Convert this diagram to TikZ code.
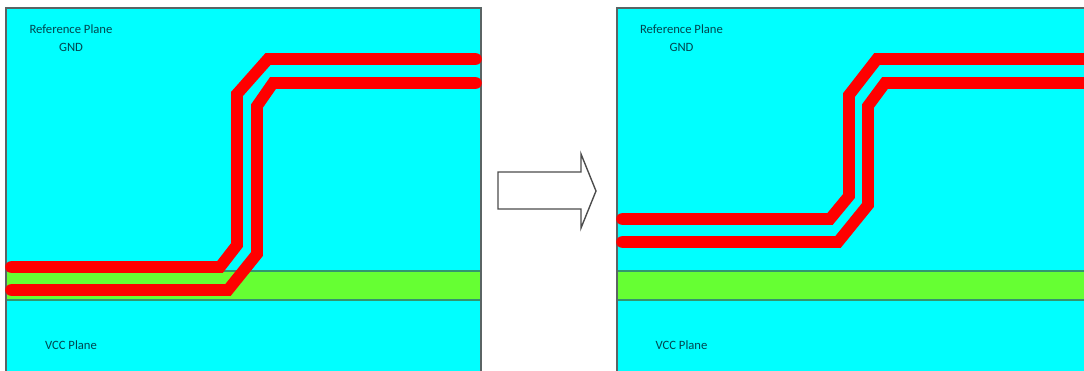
\documentclass[tikz,border=0pt]{standalone}
\usepackage{fontspec}
\setmainfont{Carlito}
\usepackage{xcolor}
\definecolor{planecyan}{RGB}{0,255,255}
\definecolor{corelime}{RGB}{102,255,51}
\definecolor{bandedge}{RGB}{50,150,110}
\definecolor{edgegray}{RGB}{90,100,100}
\definecolor{labeldark}{RGB}{0,70,80}
\tikzset{
  planeedge/.style={draw=edgegray, line width=1pt},
  bandline/.style={draw=bandedge, line width=1pt},
  trace/.style={draw=red, line width=8.4pt, line cap=round, line join=miter},
  planelabel/.style={text=labeldark, align=center, inner sep=0pt, font={\fontsize{9.15}{13}\selectfont}}
}
\begin{document}
\begin{tikzpicture}[scale=2.54]
  \useasboundingbox (0, 0) rectangle (10.84, 3.71);

  % Before: left plane
  \fill[planecyan] (0.06, 0) rectangle (4.81, 3.63);
  \fill[corelime] (0.06, 0.71) rectangle (4.81, 1.00);
  \draw[bandline] (0.06, 1.00) -- (4.81, 1.00);
  \draw[bandline] (0.06, 0.71) -- (4.81, 0.71);
  \draw[planeedge] (0.06, 0) -- (0.06, 3.63) -- (4.81, 3.63) -- (4.81, 0);
  \draw[trace] (0.11, 1.04) -- (2.20, 1.04) -- (2.37, 1.26) -- (2.37, 2.77) -- (2.68, 3.12) -- (4.76, 3.12);
  \draw[trace] (0.11, 0.81) -- (2.28, 0.81) -- (2.57, 1.17) -- (2.57, 2.65) -- (2.73, 2.88) -- (4.76, 2.88);
  \node[planelabel] (refleft) at (0.71, 3.33) {Reference Plane\\GND};
  \node[planelabel] (vccleft) at (0.71, 0.26) {VCC Plane};

  % Arrow
  \draw[fill=white, draw=black!70, line width=1pt] (4.98, 1.99) -- (5.81, 1.99) -- (5.81, 2.17) -- (5.96, 1.80)
    -- (5.81, 1.43) -- (5.81, 1.62) -- (4.98, 1.62) -- cycle;

  % After: right plane
  \fill[planecyan] (6.17, 0) rectangle (10.84, 3.63);
  \fill[corelime] (6.17, 0.71) rectangle (10.84, 1.00);
  \draw[bandline] (6.17, 1.00) -- (10.84, 1.00);
  \draw[bandline] (6.17, 0.71) -- (10.84, 0.71);
  \draw[planeedge] (6.17, 0) -- (6.17, 3.63) -- (10.84, 3.63);
  \draw[trace] (6.22, 1.52) -- (8.30, 1.52) -- (8.49, 1.75) -- (8.49, 2.76) -- (8.77, 3.12) -- (10.9, 3.12);
  \draw[trace] (6.22, 1.29) -- (8.38, 1.29) -- (8.68, 1.66) -- (8.68, 2.65) -- (8.85, 2.88) -- (10.9, 2.88);
  \node[planelabel] (refright) at (6.815, 3.33) {Reference Plane\\GND};
  \node[planelabel] (vccright) at (6.815, 0.26) {VCC Plane};
\end{tikzpicture}
\end{document}
